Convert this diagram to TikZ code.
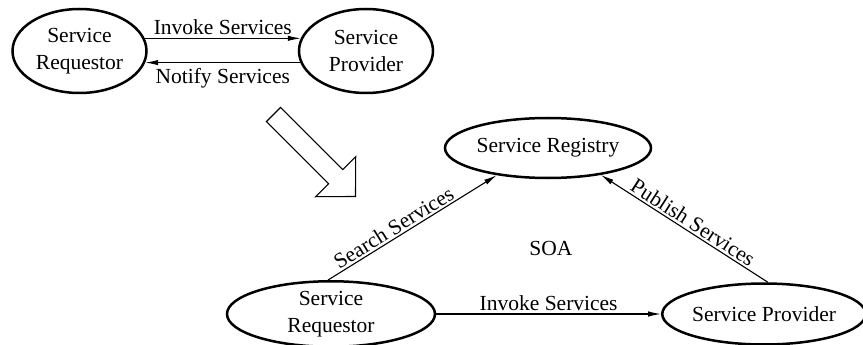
\documentclass[tikz,border=0pt]{standalone}
\usepackage{fontspec}
\setmainfont{Liberation Serif}
\usetikzlibrary{shapes.geometric,arrows.meta}
\begin{document}
\begin{tikzpicture}[x=1pt,y=-1pt,
  actor/.style={ellipse,draw,line width=2.5pt,inner sep=0pt,align=center,
    font=\fontsize{21.5}{27.5}\selectfont},
  link/.style={line width=1.1pt,-{Latex[length=13pt,width=5.5pt]}},
  lbl/.style={font=\fontsize{21.5}{26}\selectfont,inner sep=1pt},
  bigarrow/.style={draw,line width=1.1pt,line join=miter,fill=white}]
\useasboundingbox (0,0) rectangle (863,345);

% direct interaction
\node[actor,minimum width=134pt,minimum height=84pt] (treq) at (79.5,51) {Service\\Requestor};
\node[actor,minimum width=134pt,minimum height=84pt] (tprov) at (366,51) {Service\\Provider};
\draw[link] (treq.11) -- node[lbl,above=2pt] {Invoke Services} (tprov.169);
\draw[link] (tprov.190) -- node[lbl,below=4pt] {Notify Services} (treq.350);

% transition arrow
\draw[bigarrow] (280.6,107.4) -- (342.8,169.6) -- (355.7,156.7) -- (355.5,196.5)
  -- (315.7,196.7) -- (328.6,183.8) -- (266.4,121.6) -- cycle;

% service-oriented architecture
\node[actor,minimum width=206pt,minimum height=60pt] (reg) at (548,148) {Service Registry};
\node[actor,minimum width=208pt,minimum height=61pt] (breq) at (331,314) {Service\\Requestor};
\node[actor,minimum width=197pt,minimum height=61pt] (bprov) at (764,314) {Service Provider};
\node[lbl] (soa) at (551,248) {SOA};

\draw[link] (breq.95) -- node[lbl,pos=0.42,sloped,above=1pt] {Search Services} (reg.208);
\draw[link] (bprov.83) -- node[lbl,pos=0.48,sloped,above=1pt] {Publish Services} (reg.333);
\draw[link] (breq.east) -- node[lbl,above=2pt] {Invoke Services} (bprov.west);
\end{tikzpicture}
\end{document}
